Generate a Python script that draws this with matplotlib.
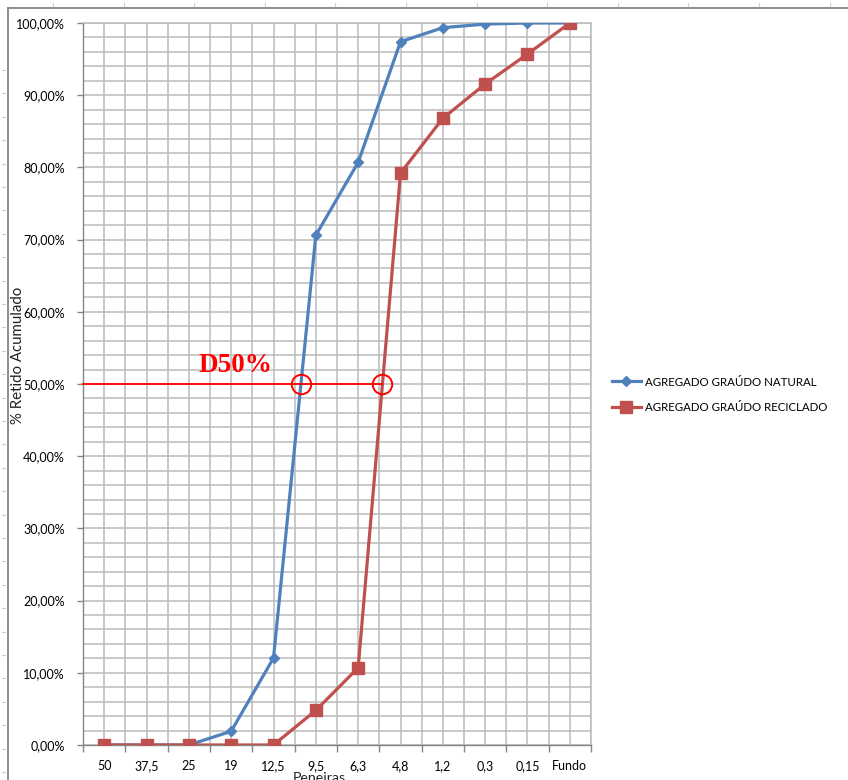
import numpy as np
import matplotlib
matplotlib.use("Agg")
import matplotlib.pyplot as plt
from matplotlib.lines import Line2D
from matplotlib.ticker import FuncFormatter, MultipleLocator

# Sieve openings (peneiras) and cumulative retained percentages
peneiras = ["50", "37,5", "25", "19", "12,5", "9,5", "6,3", "4,8", "1,2", "0,3", "0,15", "Fundo"]
natural = [0.0, 0.0, 0.0, 1.9, 12.05, 70.6, 80.7, 97.4, 99.35, 99.85, 100.0, 100.0]
reciclado = [0.0, 0.0, 0.0, 0.0, 0.0, 4.8, 10.7, 79.2, 86.8, 91.55, 95.7, 100.0]
label_natural = "AGREGADO GRAÚDO NATURAL"
label_reciclado = "AGREGADO GRAÚDO RECICLADO"
d50_level = 50.0

BLUE = "#4F81BD"
RED = "#C0504D"
GRID = "#BBBBBB"
AXIS = "#868686"
FONT = "Lato"
FS = 9.0

W, H = 848, 780
fig = plt.figure(figsize=(W / 100, H / 100), dpi=100)
fig.patch.set_facecolor("white")

# outer chart-area frame with faint ruler ticks
fig.add_artist(Line2D([8 / W, 1.0], [1 - 8 / H, 1 - 8 / H], transform=fig.transFigure,
                      color="#8C8C8C", lw=1.4))
fig.add_artist(Line2D([8 / W, 8 / W], [0.0, 1 - 8 / H], transform=fig.transFigure,
                      color="#8C8C8C", lw=1.4))
for px in np.arange(53, W, 70.6):
    fig.add_artist(Line2D([px / W, px / W], [1 - 3 / H, 1 - 6 / H], transform=fig.transFigure,
                          color="#C9C9E3", lw=0.8))
for py in np.arange(70, H, 23.4):
    fig.add_artist(Line2D([2 / W, 5 / W], [1 - py / H, 1 - py / H], transform=fig.transFigure,
                          color="#C9C9E3", lw=0.8))

ax = fig.add_axes([83 / W, 35 / H, 508 / W, 722 / H])
x = np.arange(len(peneiras))

ax.plot(x, natural, color=BLUE, lw=2.3, marker="D", ms=5.6, mfc=BLUE, mec=BLUE,
        zorder=4, label=label_natural)
ax.plot(x, reciclado, color=RED, lw=2.3, marker="s", ms=8.2, mfc=RED, mec=RED,
        zorder=5, label=label_reciclado)

ax.set_xlim(-0.5, len(peneiras) - 0.5)
ax.set_ylim(0, 100)

# axes, ticks and grid
ax.set_xticks(x)
ax.set_xticklabels(peneiras, fontsize=FS, family=FONT)
ax.set_xticks(np.arange(-0.5, len(peneiras), 1.0), minor=True)
ax.yaxis.set_major_locator(MultipleLocator(10))
ax.yaxis.set_minor_locator(MultipleLocator(2))
ax.yaxis.set_major_formatter(FuncFormatter(lambda v, p: f"{v:.2f}".replace(".", ",") + "%"))
for lab in ax.get_yticklabels():
    lab.set_family(FONT)
ax.tick_params(axis="y", which="major", length=4, width=1, color=AXIS, labelsize=FS, pad=9)
ax.tick_params(axis="y", which="minor", length=0)
ax.tick_params(axis="x", which="major", length=0, labelsize=FS, pad=11)
ax.tick_params(axis="x", which="minor", length=5, width=1, color=AXIS)
ax.grid(True, which="both", color=GRID, lw=1.1, zorder=0)
ax.set_axisbelow(True)
for s in ("left", "bottom"):
    ax.spines[s].set_color(AXIS)
    ax.spines[s].set_linewidth(1.0)
for s in ("right", "top"):
    ax.spines[s].set_color(GRID)
    ax.spines[s].set_linewidth(1.1)

# D50 construction: horizontal line at 50 % and crossings with each curve
def crossing(values, level):
    for i in range(len(values) - 1):
        a, b = values[i], values[i + 1]
        if a < level <= b:
            return i + (level - a) / (b - a)
    return None

xn = crossing(natural, d50_level)
xr = crossing(reciclado, d50_level)
ax.plot([-0.5, xr], [d50_level, d50_level], color="#FF0000", lw=1.3, zorder=6, clip_on=False)
ax.plot([xn, xr], [d50_level, d50_level], ls="none", marker="o", ms=14, mfc="none",
        mec="#FF0000", mew=1.4, zorder=7)
ax.text(3.1, 52.6, "D50%", color="#FF0000", fontsize=19.5, fontweight="bold",
        family="Liberation Serif", ha="center", va="center", zorder=7)

# axis titles
fig.text(18 / W, 1 - 355 / H, "% Retido Acumulado", rotation=90, ha="center", va="center",
         fontsize=10.8, family=FONT, color="#222222")
fig.text(319 / W, 1 - 778.5 / H, "Peneiras", ha="center", va="center",
         fontsize=10.2, family=FONT, color="#222222")

leg = ax.legend(loc="center left", bbox_to_anchor=(612 / W, 1 - 395 / H),
                bbox_transform=fig.transFigure, frameon=False, borderpad=0,
                borderaxespad=0, handlelength=2.5, handletextpad=0.4,
                labelspacing=1.3, prop={"family": FONT, "size": 8.3})

fig.savefig("out.png", dpi=100)
